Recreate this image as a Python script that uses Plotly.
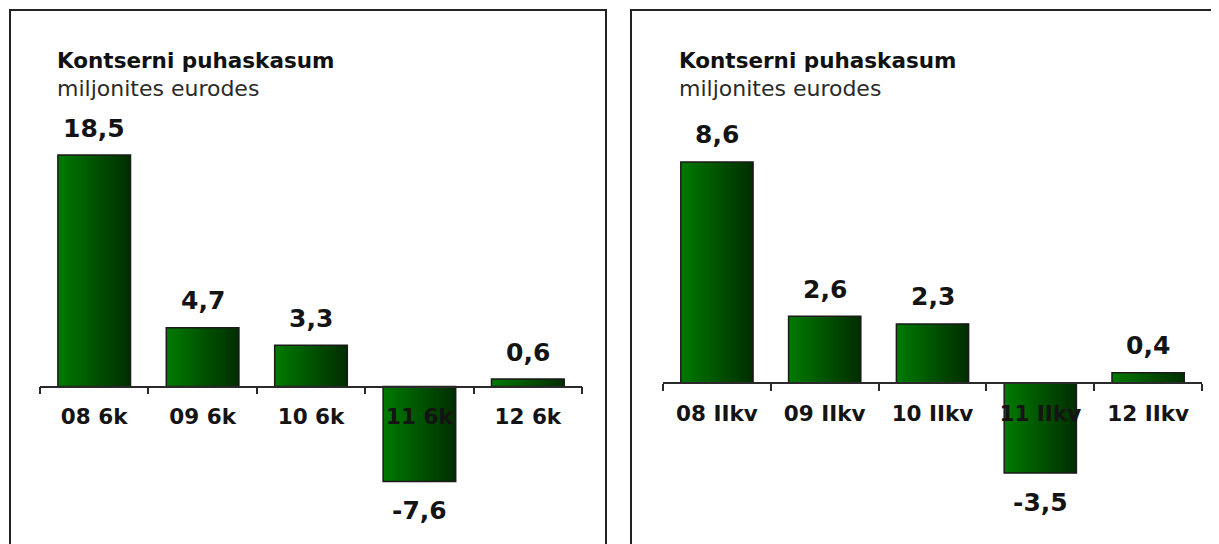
import plotly.graph_objects as go

# the page body adds an 8px margin, so the figure is drawn 8px in from the corner
OFF = 8
W, H = 1219 - OFF, 544 - OFF

# data
cats_6k = ["08 6k", "09 6k", "10 6k", "11 6k", "12 6k"]
vals_6k = [18.5, 4.7, 3.3, -7.6, 0.6]

cats_q2 = ["08 IIkv", "09 IIkv", "10 IIkv", "11 IIkv", "12 IIkv"]
vals_q2 = [8.6, 2.6, 2.3, -3.5, 0.4]

chart_title = "Kontserni puhaskasum"
chart_subtitle = "miljonites eurodes"

FONT = "DejaVu Sans"
TEXT = "#141414"
BAR_W = 0.67
N_SLICES = 40
GREEN_L = (0, 122, 0)
GREEN_R = (0, 46, 0)


def px_x(x):
    return (x - OFF) / W


def px_y(y):
    return 1 - (y - OFF) / H


def fmt(v):
    return f"{v:.1f}".replace(".", ",")


def mix(t):
    r, g, b = [round(a + (c - a) * t) for a, c in zip(GREEN_L, GREEN_R)]
    return f"rgb({r},{g},{b})"


fig = go.Figure()


def add_panel(cats, vals, xa, ya):
    # horizontal gradient: each slice runs to the right edge, later ones overlap
    step = BAR_W / N_SLICES
    for i in range(N_SLICES):
        fig.add_trace(go.Bar(
            x=cats, y=vals, xaxis=xa, yaxis=ya,
            width=BAR_W - i * step, offset=-BAR_W / 2 + i * step,
            marker=dict(color=mix(i / (N_SLICES - 1)), line=dict(width=0)),
            hoverinfo="skip", showlegend=False,
        ))
    fig.add_trace(go.Bar(
        x=cats, y=vals, xaxis=xa, yaxis=ya,
        width=BAR_W, offset=-BAR_W / 2,
        marker=dict(color="rgba(0,0,0,0)", line=dict(color="#1a1a1a", width=1.5)),
        hovertemplate="%{x}: %{y}<extra></extra>", showlegend=False,
    ))
    for c, v in zip(cats, vals):
        fig.add_annotation(
            x=c, y=v, xref=xa, yref=ya, text=fmt(v), showarrow=False,
            yanchor="middle", yshift=27 if v >= 0 else -29,
            font=dict(family=FONT, size=25, color=TEXT, weight="bold"),
        )


add_panel(cats_6k, vals_6k, "x", "y")
add_panel(cats_q2, vals_q2, "x2", "y2")

# value ranges chosen so zero sits at ~386px (left) / ~383px (right) on screen
y1_range = [-12.59, 30.26]
y2_range = [-6.26, 14.59]


def zero_pos(r):
    return -r[0] / (r[1] - r[0])


xaxis_common = dict(
    type="category", range=[-0.5, 4.5], anchor="free",
    showline=True, linecolor="#2a2a2a", linewidth=1.5,
    ticks="outside", tickson="boundaries", ticklen=7, tickcolor="#2a2a2a", tickwidth=1.5,
    ticklabelstandoff=11, showgrid=False, fixedrange=True,
    tickfont=dict(family=FONT, size=21.5, color=TEXT, weight="bold"),
)

fig.update_layout(
    width=W, height=H,
    margin=dict(l=0, r=0, t=0, b=0),
    paper_bgcolor="white", plot_bgcolor="white",
    barmode="overlay",
    showlegend=False,
    xaxis=dict(domain=[px_x(40), px_x(582)], position=zero_pos(y1_range), **xaxis_common),
    yaxis=dict(domain=[0, 1], range=y1_range, visible=False, fixedrange=True),
    xaxis2=dict(domain=[px_x(663), px_x(1202)], position=zero_pos(y2_range), **xaxis_common),
    yaxis2=dict(domain=[0, 1], range=y2_range, visible=False, fixedrange=True, anchor="x2"),
)

# panel frames and headings (right frame runs off the canvas edge)
for left, right, tx in [(10, 606, 55), (631, 1224, 677)]:
    fig.add_shape(type="rect", xref="paper", yref="paper",
                  x0=px_x(left), x1=px_x(right), y0=-0.05, y1=px_y(10),
                  line=dict(color="#222", width=2), layer="above")
    fig.add_annotation(xref="paper", yref="paper", x=px_x(tx), y=px_y(61),
                       xanchor="left", yanchor="middle", showarrow=False,
                       text=chart_title,
                       font=dict(family=FONT, size=21.5, color="#111", weight="bold"))
    fig.add_annotation(xref="paper", yref="paper", x=px_x(tx), y=px_y(88),
                       xanchor="left", yanchor="middle", showarrow=False,
                       text=chart_subtitle,
                       font=dict(family=FONT, size=22, color="#2a2a2a"))

fig.write_html("out.html")
